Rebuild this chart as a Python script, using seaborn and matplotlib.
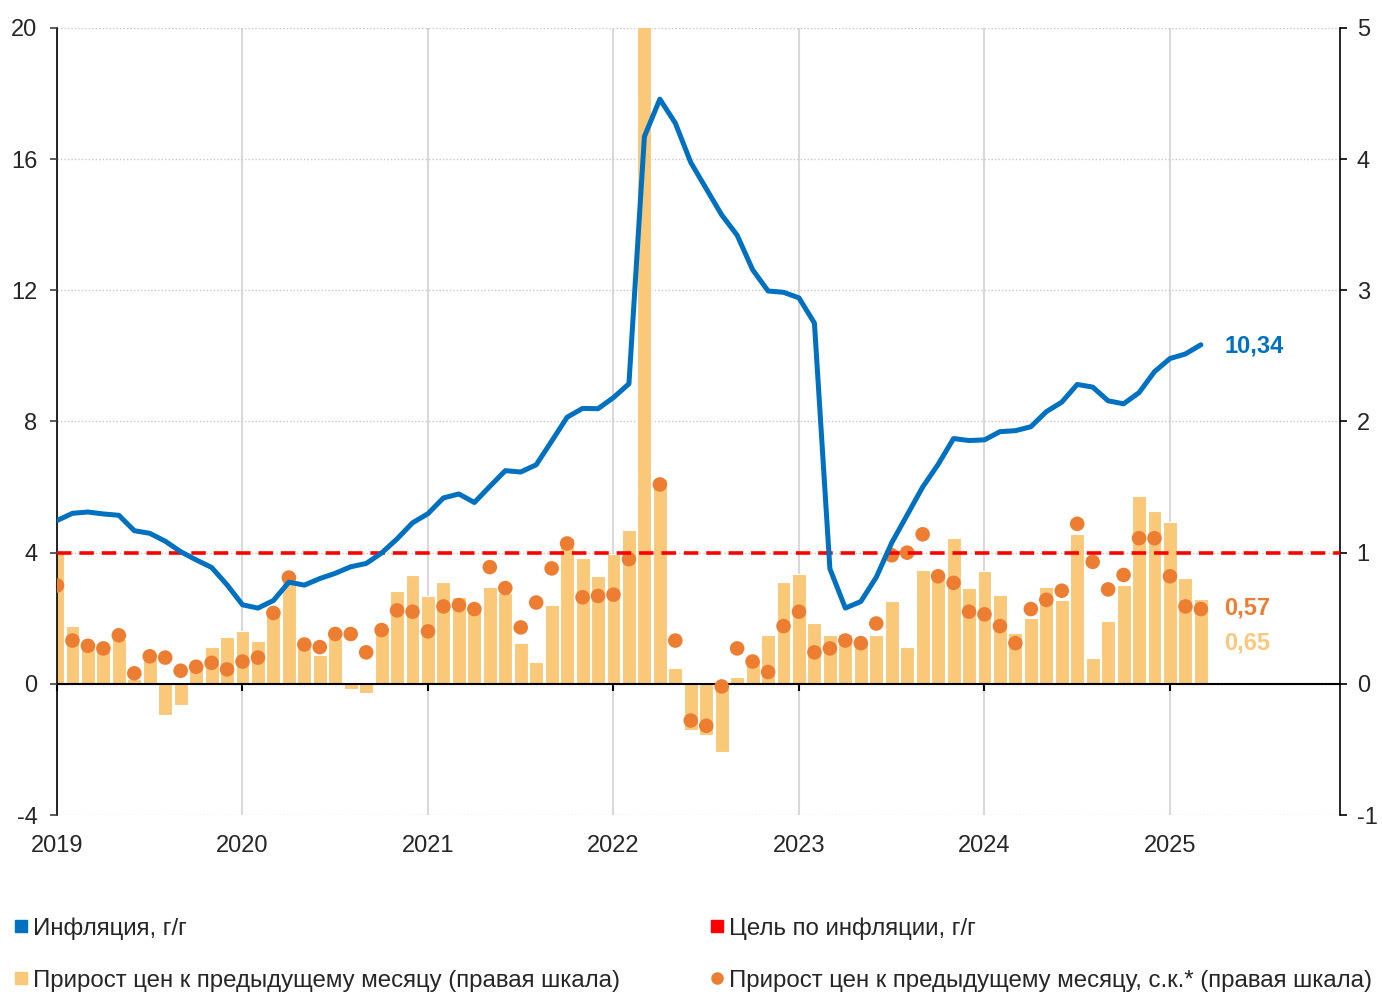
import numpy as np
import pandas as pd
import matplotlib
matplotlib.use("Agg")
import matplotlib.pyplot as plt
from matplotlib.lines import Line2D
import seaborn as sns

# monthly data, Jan 2019 - Mar 2025
months = pd.date_range("2019-01-01", "2025-03-01", freq="MS")

# inflation, y/y, % (left scale)
infl_yoy = [4.98, 5.20, 5.24, 5.18, 5.14, 4.67, 4.59, 4.35, 4.03, 3.78, 3.55, 3.02,
            2.41, 2.31, 2.54, 3.10, 3.01, 3.21, 3.37, 3.57, 3.67, 3.99, 4.42, 4.91,
            5.19, 5.67, 5.79, 5.53, 6.02, 6.50, 6.46, 6.68, 7.40, 8.13, 8.40, 8.39,
            8.73, 9.15, 16.69, 17.83, 17.10, 15.90, 15.10, 14.30, 13.68, 12.63, 11.98, 11.94,
            11.77, 11.00, 3.51, 2.31, 2.51, 3.25, 4.30, 5.15, 6.00, 6.69, 7.48, 7.42,
            7.44, 7.69, 7.72, 7.84, 8.30, 8.59, 9.13, 9.05, 8.63, 8.54, 8.88, 9.52,
            9.92, 10.06, 10.34]

# price growth m/m, % (right scale)
mom = [1.01, 0.44, 0.32, 0.29, 0.34, 0.04, 0.20, -0.24, -0.16, 0.13, 0.28, 0.36,
       0.40, 0.33, 0.55, 0.83, 0.27, 0.22, 0.35, -0.04, -0.07, 0.43, 0.71, 0.83,
       0.67, 0.78, 0.66, 0.58, 0.74, 0.69, 0.31, 0.17, 0.60, 1.11, 0.96, 0.82,
       0.99, 1.17, 7.61, 1.56, 0.12, -0.35, -0.39, -0.52, 0.05, 0.18, 0.37, 0.78,
       0.84, 0.46, 0.37, 0.38, 0.31, 0.37, 0.63, 0.28, 0.87, 0.83, 1.11, 0.73,
       0.86, 0.68, 0.39, 0.50, 0.74, 0.64, 1.14, 0.20, 0.48, 0.75, 1.43, 1.32,
       1.23, 0.81, 0.65]

# price growth m/m, seasonally adjusted, % (right scale)
mom_sa = [0.75, 0.33, 0.29, 0.27, 0.37, 0.08, 0.21, 0.20, 0.10, 0.13, 0.16, 0.11,
          0.17, 0.20, 0.54, 0.81, 0.30, 0.28, 0.38, 0.38, 0.24, 0.41, 0.56, 0.55,
          0.40, 0.59, 0.60, 0.57, 0.89, 0.73, 0.43, 0.62, 0.88, 1.07, 0.66, 0.67,
          0.68, 0.95, 7.00, 1.52, 0.33, -0.28, -0.32, -0.02, 0.27, 0.17, 0.09, 0.44,
          0.55, 0.24, 0.27, 0.33, 0.31, 0.46, 0.98, 1.00, 1.14, 0.82, 0.77, 0.55,
          0.53, 0.44, 0.31, 0.57, 0.64, 0.71, 1.22, 0.93, 0.72, 0.83, 1.11, 1.11,
          0.82, 0.59, 0.57]

target = 4.0
left_ticks = [-4, 0, 4, 8, 12, 16, 20]
right_ticks = [-1, 0, 1, 2, 3, 4, 5]
years = [2019, 2020, 2021, 2022, 2023, 2024, 2025]
n_months_axis = 83  # axis runs to Dec 2025

labels = ["Инфляция, г/г",
          "Прирост цен к предыдущему месяцу (правая шкала)",
          "Цель по инфляции, г/г",
          "Прирост цен к предыдущему месяцу, с.к.* (правая шкала)"]

BLUE = "#0070C0"
RED = "#FF0000"
BAR = "#F9C879"
DOT = "#ED7D31"

df = pd.DataFrame({"t": np.arange(len(months)), "infl": infl_yoy,
                   "mom": mom, "sa": mom_sa})

sns.set_style("white")
plt.rcParams["font.family"] = ["Liberation Sans", "DejaVu Sans"]

fig = plt.figure(figsize=(13.82, 9.92), dpi=100)
ax = fig.add_axes([57 / 1382, 1 - 815 / 992, (1340 - 57) / 1382, (815 - 28) / 992])

# bars and dots on the right scale
sns.barplot(data=df, x="t", y="mom", native_scale=True, width=0.9, color=BAR,
            saturation=1, errorbar=None, edgecolor="white", linewidth=0.8, ax=ax)
sns.scatterplot(data=df, x="t", y="sa", color=DOT, s=110, edgecolor="none",
                zorder=4, legend=False, ax=ax)

ax.set_ylim(right_ticks[0], right_ticks[-1])
ax.set_xlim(0, n_months_axis)
ax.set_xlabel("")
ax.set_ylabel("")

# line on the left scale (twin drawn on top)
ax2 = ax.twinx()
sns.lineplot(data=df, x="t", y="infl", color=BLUE, linewidth=3.6, ax=ax2, zorder=3)
ax2.axhline(target, color=RED, linewidth=2.6, linestyle=(0, (4, 2.2)), zorder=2)
ax2.set_ylim(left_ticks[0], left_ticks[-1])
ax2.set_xlim(0, n_months_axis)
ax2.set_ylabel("")

ax.yaxis.tick_right()
ax2.yaxis.tick_left()
ax.set_yticks(right_ticks)
ax.set_yticklabels([str(v) for v in right_ticks])
ax2.set_yticks(left_ticks)
ax2.set_yticklabels([str(v) for v in left_ticks])

year_pos = [12 * (y - years[0]) for y in years]
ax.set_xticks(year_pos)
ax.set_xticklabels([str(y) for y in years])

# grid
ax.set_axisbelow(True)
ax.yaxis.grid(True, color="#C8C8C8", linestyle=(0, (1, 1.5)), linewidth=1.0)
ax.xaxis.grid(True, color="#D9D9D9", linestyle="-", linewidth=1.5)

# spines
ax.spines["top"].set_visible(False)
for s in ax2.spines.values():
    s.set_visible(False)
ax.spines["left"].set_color("black")
ax.spines["right"].set_color("black")
ax.spines["left"].set_linewidth(1.2)
ax.spines["right"].set_linewidth(1.2)
ax.spines["bottom"].set_position(("data", 0))
ax.spines["bottom"].set_color("black")
ax.spines["bottom"].set_linewidth(1.5)

ax.tick_params(axis="y", direction="out", length=5, width=1.2, color="black",
               labelsize=17, pad=7, right=True, left=False)
ax2.tick_params(axis="y", direction="out", length=5, width=1.2, color="#404040",
                labelsize=17, pad=9, left=True, right=False)
ax.tick_params(axis="x", direction="out", length=5, width=1.5, color="black",
               labelsize=17, pad=103.5, bottom=True)

# value labels at the ends
def fmt(v):
    return f"{v:.2f}".replace(".", ",")

last = len(months) - 1
ax2.annotate(fmt(infl_yoy[-1]), (last, infl_yoy[-1]), xytext=(17, -1),
             textcoords="offset points", va="center", ha="left",
             fontsize=17, fontweight="bold", color=BLUE)
ax.annotate(fmt(mom_sa[-1]), (last, mom_sa[-1]), xytext=(17, 1),
            textcoords="offset points", va="center", ha="left",
            fontsize=17, fontweight="bold", color=DOT)
ax.annotate(fmt(mom[-1]), (last, mom[-1]), xytext=(17, -32),
            textcoords="offset points", va="center", ha="left",
            fontsize=17, fontweight="bold", color=BAR)

# legend, two columns
h_infl = Line2D([], [], marker="s", linestyle="none", color=BLUE, markersize=8)
h_bar = Line2D([], [], marker="s", linestyle="none", color=BAR, markersize=8)
h_tgt = Line2D([], [], marker="s", linestyle="none", color=RED, markersize=8)
h_dot = Line2D([], [], marker="o", linestyle="none", color=DOT, markersize=8)

leg_kw = dict(loc="upper left", frameon=False, fontsize=17.3, handlelength=0.5,
              handletextpad=0.25, labelspacing=1.26, borderpad=0, borderaxespad=0)
fig.legend([h_infl, h_bar], labels[:2], bbox_to_anchor=(15 / 1382, 1 - 917 / 992), **leg_kw)
fig.legend([h_tgt, h_dot], labels[2:], bbox_to_anchor=(711 / 1382, 1 - 917 / 992), **leg_kw)

fig.savefig("out.png", dpi=100)
